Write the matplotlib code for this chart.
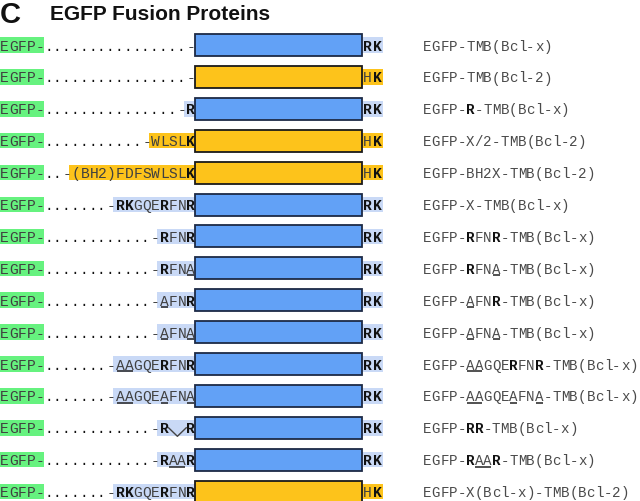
import matplotlib
matplotlib.use("Agg")
import matplotlib.pyplot as plt
from matplotlib.patches import Rectangle, Polygon
import math

# ---------------- data ----------------
# markup: *..* bold, _.._ underline, ^ = deleted position (gap)
left_seqs = ["", "", "*R*", "WLSL*K*", "(BH2)FDFSWLSL*K*", "*RK*GQE*R*FN*R*",
             "*R*FN*R*", "*R*FN_A_", "_A_FN*R*", "_A_FN_A_", "_AA_GQE*R*FN*R*",
             "_AA_GQE_A_FN_A_", "*R*^^*R*", "*R*_AA_*R*", "*RK*GQE*R*FN*R*"]
seq_origin = ["x", "x", "x", "2", "2", "x", "x", "x", "x", "x", "x", "x", "x", "x", "x"]
tmb_origin = ["x", "2", "x", "2", "2", "x", "x", "x", "x", "x", "x", "x", "x", "x", "2"]
tail_seqs = {"x": "*RK*", "2": "H*K*"}
labels = ["EGFP-TMB(Bcl-x)", "EGFP-TMB(Bcl-2)", "EGFP-*R*-TMB(Bcl-x)",
          "EGFP-X/2-TMB(Bcl-2)", "EGFP-BH2X-TMB(Bcl-2)", "EGFP-X-TMB(Bcl-x)",
          "EGFP-*R*FN*R*-TMB(Bcl-x)", "EGFP-*R*FN_A_-TMB(Bcl-x)",
          "EGFP-_A_FN*R*-TMB(Bcl-x)", "EGFP-_A_FN_A_-TMB(Bcl-x)",
          "EGFP-_AA_GQE*R*FN*R*-TMB(Bcl-x)", "EGFP-_AA_GQE_A_FN_A_-TMB(Bcl-x)",
          "EGFP-*RR*-TMB(Bcl-x)", "EGFP-*R*_AA_*R*-TMB(Bcl-x)",
          "EGFP-X(Bcl-x)-TMB(Bcl-2)"]
title_letter = "C"
title = "EGFP Fusion Proteins"

# ---------------- style ----------------
GREEN = "#66f27f"
LBLUE = "#c9d9f6"
BLUE = "#62a1f6"
ORANGE = "#fdc31b"
BLUE_EDGE = "#1d2a45"
ORANGE_EDGE = "#1a1a1a"
TXT = "#404040"
MONO = "Liberation Mono"

fig = plt.figure(figsize=(6.4, 5.02), dpi=100)
ax = fig.add_axes([0, 0, 1, 1])
ax.set_xlim(0, 640)
ax.set_ylim(502, 0)
ax.axis("off")

y0, dy = 46.0, 31.9
box_x0, box_x1, box_h = 195.0, 362.0, 22.0
wl, wr = 8.8, 8.6
fs_l, fs_r = 10.5, 10.2
hl_h = 15.5
label_x = 423.0


def parse(s):
    out = []
    bold = und = False
    for ch in s:
        if ch == "*":
            bold = not bold
        elif ch == "_":
            und = not und
        else:
            out.append((ch, bold, und))
    return out


def draw_chars(chars, x_start, y, w, fs, base_col=TXT):
    bl = y + 4.6
    for i, (ch, b, u) in enumerate(chars):
        xc = x_start + (i + 0.5) * w
        if ch != "^":
            ax.text(xc, bl, ch, ha="center", va="baseline", family=MONO,
                    fontsize=fs, color=("#111111" if b else base_col),
                    fontweight=("bold" if b else "normal"), zorder=5)
    # underline runs
    i = 0
    while i < len(chars):
        if chars[i][2]:
            j = i
            while j + 1 < len(chars) and chars[j + 1][2]:
                j += 1
            ax.plot([x_start + i * w + 0.8, x_start + (j + 1) * w - 0.8],
                    [bl + 2.4, bl + 2.4], color="#222222", lw=1.1,
                    solid_capstyle="butt", zorder=5)
            i = j + 1
        else:
            i += 1


# title
ax.text(0, 23, title_letter, fontsize=21, fontweight="bold",
        family="Liberation Sans", ha="left", va="baseline", color="#111111")
ax.text(50, 20.5, title, fontsize=15, fontweight="bold",
        family="Liberation Sans", ha="left", va="baseline", color="#111111")

for r in range(len(left_seqs)):
    y = y0 + r * dy
    # EGFP- tag
    ax.add_patch(Rectangle((0, y - hl_h / 2), 5 * wl - 0.5, hl_h,
                           facecolor=GREEN, edgecolor="none", zorder=1))
    draw_chars(parse("EGFP-"), 0, y, wl, fs_l)

    seq = parse(left_seqs[r])
    n = len(seq)
    seq_start = box_x0 - n * wl
    if n:
        col = ORANGE if seq_origin[r] == "2" else LBLUE
        ax.add_patch(Rectangle((seq_start - 2.5, y - hl_h / 2),
                               box_x0 - seq_start + 2.5, hl_h,
                               facecolor=col, edgecolor="none", zorder=1))
        # deletion wedge
        gaps = [i for i, c in enumerate(seq) if c[0] == "^"]
        if gaps:
            gx0 = seq_start + gaps[0] * wl
            gx1 = seq_start + (gaps[-1] + 1) * wl
            xm = (gx0 + gx1) / 2
            ax.add_patch(Polygon([(gx0, y), (xm, y + 8.5), (gx1, y)],
                                 closed=True, facecolor=col, edgecolor="none",
                                 zorder=1))
            ax.plot([gx0, xm, gx1], [y, y + 8.5, y], color="#444444",
                    lw=1.0, zorder=4)
        draw_chars(seq, seq_start, y, wl, fs_l)
    dash_x = seq_start - wl
    draw_chars(parse("-"), dash_x, y, wl, fs_l)
    ndots = int(math.floor((dash_x - 5 * wl) / wl + 0.05))
    draw_chars(parse("." * ndots), 5 * wl, y, wl, fs_l, base_col="#111111")

    # TMB box
    if tmb_origin[r] == "x":
        fc, ec, tcol = BLUE, BLUE_EDGE, LBLUE
    else:
        fc, ec, tcol = ORANGE, ORANGE_EDGE, ORANGE
    ax.add_patch(Rectangle((box_x0, y - box_h / 2), box_x1 - box_x0, box_h,
                           facecolor=fc, edgecolor=ec, lw=1.3, zorder=3))
    tail = parse(tail_seqs[tmb_origin[r]])
    ax.add_patch(Rectangle((box_x1, y - hl_h / 2), 2 * 9.8 + 1, hl_h,
                           facecolor=tcol, edgecolor="none", zorder=1))
    draw_chars(tail, box_x1 + 0.8, y, 9.8, fs_l)

    # label
    draw_chars(parse(labels[r]), label_x, y, wr, fs_r, base_col="#4a4a4a")

fig.savefig("out.png", dpi=100)
